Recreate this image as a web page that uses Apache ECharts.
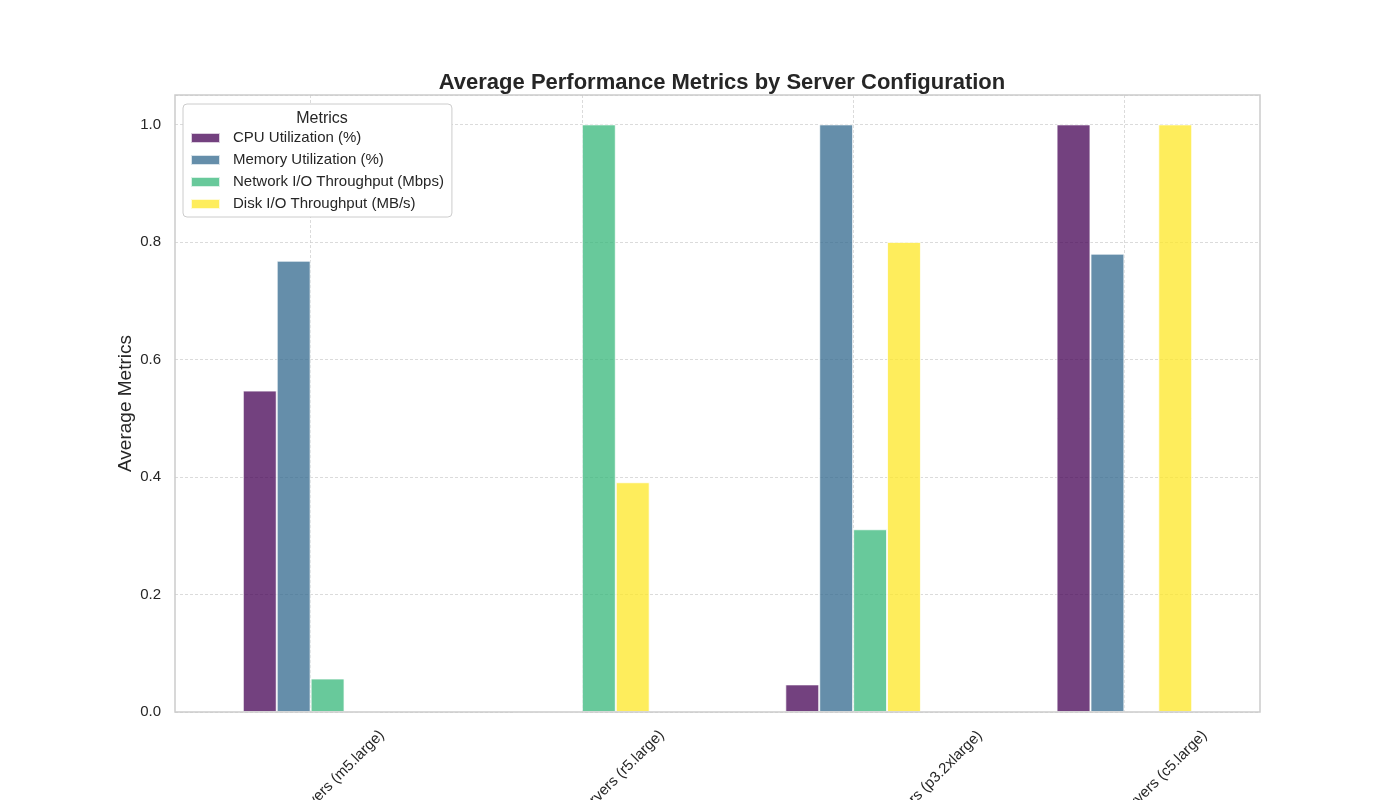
<!DOCTYPE html>
<html>
<head>
<meta charset="utf-8">
<script src="https://cdn.jsdelivr.net/npm/echarts@6/dist/echarts.min.js"></script>
<style>
html, body { margin: 0; padding: 0; background: #fff; }
#chart { width: 1400px; height: 800px; }
</style>
</head>
<body>
<div id="chart"></div>
<script>
// data
var servers = [
    'Application Servers (m5.large)',
    'RAM Optimized Servers (r5.large)',
    'GPU Accelerated Deep Learning Servers (p3.2xlarge)',
    'CPU Optimized Servers (c5.large)'
];
var metrics = ['CPU Utilization (%)', 'Memory Utilization (%)', 'Network I/O Throughput (Mbps)', 'Disk I/O Throughput (MB/s)'];
var cpuUtil = [0.547, 0, 0.047, 1.0];
var memUtil = [0.768, 0, 1.0, 0.78];
var netIO = [0.057, 1.0, 0.311, 0];
var diskIO = [0, 0.391, 0.8, 1.0];

var colors = ['#440154', '#31688e', '#35b779', '#fde725'];
var FONT = '"Liberation Sans", Arial, sans-serif';
var TXT = '#262626';

var chart = echarts.init(document.getElementById('chart'));

// matplotlib centres the rotated label box under the tick; echarts centres the text on the anchor.
// move each label straight down by half its rotated box: right padding pulls it back along the
// text, an empty first line of the same height pushes it across the text
var ctx = document.createElement('canvas').getContext('2d');
ctx.font = '15px "Liberation Sans"';
function catItem(name) {
    var w = ctx.measureText(name).width;
    var p = Math.round((w + 17) / 2);
    return {
        value: name,
        textStyle: { align: 'center', verticalAlign: 'middle', lineHeight: p, padding: [0, p, 0, 0] }
    };
}

function barSeries(name, data, i) {
    return {
        name: name,
        type: 'bar',
        data: data,
        barGap: 0,
        barCategoryGap: '50%',
        itemStyle: { color: colors[i], opacity: 0.75, borderColor: '#fff', borderWidth: 1 },
        emphasis: { disabled: true }
    };
}

var gridLine = { color: '#cccccc', width: 0.7, type: [3, 2] };

var option = {
    animation: false,
    textStyle: { fontFamily: FONT },
    title: [{
        text: 'Average Performance Metrics by Server Configuration',
        left: 717,
        textAlign: 'center',
        top: 67,
        textStyle: { fontSize: 22, fontWeight: 'bold', color: TXT, fontFamily: FONT }
    }, {
        text: 'Metrics',
        left: 317,
        textAlign: 'center',
        top: 106,
        textStyle: { fontSize: 16, fontWeight: 'normal', color: TXT, fontFamily: FONT }
    }],
    legend: {
        data: metrics,
        orient: 'vertical',
        left: 183,
        top: 104,
        padding: [26, 8, 5, 7],
        itemWidth: 29,
        itemHeight: 10,
        itemGap: 6,
        icon: 'rect',
        backgroundColor: '#fff',
        borderColor: '#cccccc',
        borderWidth: 1,
        borderRadius: 4,
        textStyle: { fontSize: 15, lineHeight: 16, color: TXT, fontFamily: FONT, padding: [0, 0, 0, 8] }
    },
    grid: {
        left: 175, right: 140, top: 95, bottom: 88,
        outerBoundsMode: 'none',
        containLabel: false,
        z: 3,
        show: true, borderColor: '#cccccc', borderWidth: 1.5
    },
    xAxis: {
        type: 'category',
        data: servers.map(catItem),
        axisLine: { show: false },
        axisTick: { show: false },
        axisLabel: {
            interval: 0, rotate: 45, hideOverlap: false,
            margin: 15, fontSize: 15, color: TXT, fontFamily: FONT,
            formatter: function (v) { return '\n' + v; }
        },
        splitLine: { show: true, alignWithLabel: true, lineStyle: gridLine }
    },
    yAxis: {
        type: 'value',
        min: 0,
        max: 1.05,
        interval: 0.2,
        name: 'Average Metrics',
        nameLocation: 'middle',
        nameGap: 40,
        nameMoveOverlap: false,
        nameTextStyle: { fontSize: 19, color: TXT, fontFamily: FONT },
        axisLine: { show: false },
        axisTick: { show: false },
        axisLabel: {
            fontSize: 15, color: TXT, margin: 14, fontFamily: FONT,
            formatter: function (v) {
                if (Math.abs(v * 5 - Math.round(v * 5)) > 1e-6) return '';
                return v.toFixed(1);
            }
        },
        splitLine: { lineStyle: gridLine }
    },
    series: [
        barSeries(metrics[0], cpuUtil, 0),
        barSeries(metrics[1], memUtil, 1),
        barSeries(metrics[2], netIO, 2),
        barSeries(metrics[3], diskIO, 3)
    ]
};

chart.setOption(option);
</script>
</body>
</html>
